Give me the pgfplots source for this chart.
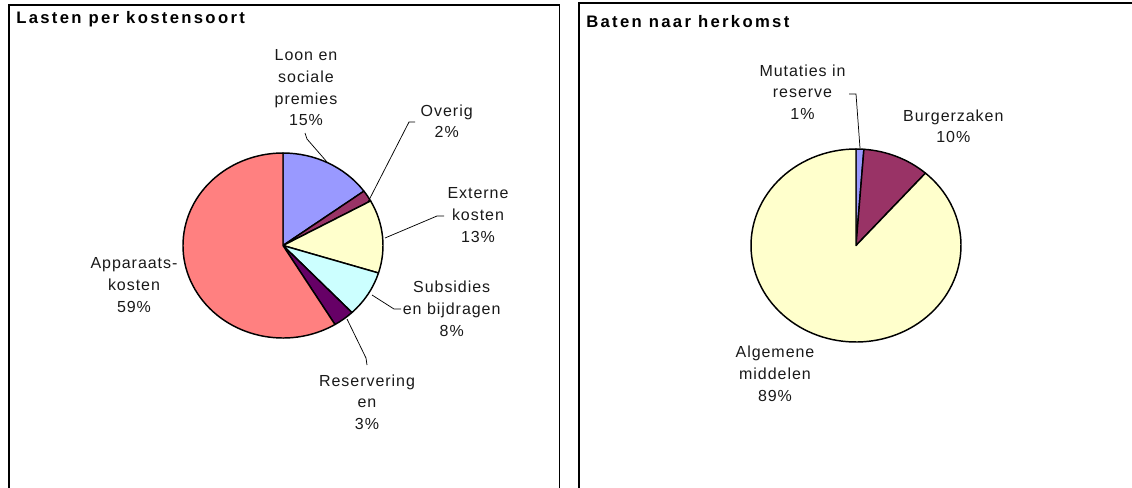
\documentclass[border=0pt]{standalone}
\usepackage{pgfplots}
\pgfplotsset{compat=1.18}
\usepackage{pgfplotstable}
\usepackage{fontspec}
\setmainfont{Liberation Sans}
\newfontfamily\lblfam{Liberation Sans}[LetterSpace=6]
\newfontfamily\ttlfam{Liberation Sans}[LetterSpace=14]
\newcommand\lbl{\lblfam\fontsize{12pt}{16.3pt}\selectfont}
\newcommand\ttl{\ttlfam\bfseries\fontsize{12.5pt}{14pt}\selectfont}

\definecolor{cLoon}{HTML}{9999FF}
\definecolor{cOverig}{HTML}{993366}
\definecolor{cExtern}{HTML}{FFFFCC}
\definecolor{cSubs}{HTML}{CCFFFF}
\definecolor{cReserv}{HTML}{660066}
\definecolor{cApp}{HTML}{FF8080}

% Lasten per kostensoort (percentages, clockwise from 12 o'clock)
\pgfplotstableread{
label pct col
Loon 15.0 cLoon
Overig 2.0 cOverig
Externe 12.8 cExtern
Subsidies 8.1 cSubs
Reservering 3.4 cReserv
Apparaats 58.7 cApp
}\lasten

% Baten naar herkomst
\pgfplotstableread{
label pct col
Mutaties 1.2 cLoon
Burgerzaken 10.3 cOverig
Algemene 88.5 cExtern
}\baten

\def\piecmds{}
% #1 table, #2 cx, #3 cy, #4 rx, #5 ry  (pixel units, y downward)
\newcommand\addpie[5]{%
  \pgfplotstablegetrowsof{#1}%
  \pgfmathtruncatemacro\nlast{\pgfplotsretval-1}%
  \def\startang{90}%
  \pgfmathsetmacro\rxpt{#4*0.75}%
  \pgfmathsetmacro\rypt{#5*0.75}%
  \pgfplotsforeachungrouped \i in {0,...,\nlast}{%
    \pgfplotstablegetelem{\i}{pct}\of{#1}\let\pct\pgfplotsretval
    \pgfplotstablegetelem{\i}{col}\of{#1}\let\col\pgfplotsretval
    \pgfmathsetmacro\endang{\startang-3.6*\pct}%
    \pgfmathsetmacro\sx{#2+#4*cos(\startang)}%
    \pgfmathsetmacro\sy{#3-#5*sin(\startang)}%
    \xdef\piecmds{\unexpanded\expandafter{\piecmds}%
      \noexpand\addplot[forget plot,mark=none,fill=\col,draw=black,line width=1.1pt,line join=round]
      coordinates {(#2,#3) (\sx,\sy)}
      arc[start angle=\startang,end angle=\endang,x radius=\rxpt pt,y radius=\rypt pt] -- cycle;}%
    \let\startang\endang
  }%
}

\tikzset{pl/.style={anchor=north, align=center, inner sep=0pt, font=\lbl, text=black!90},
         ld/.style={line width=0.55pt, black}}

\begin{document}
\addpie{\lasten}{283}{245.5}{100}{92.5}%
\addpie{\baten}{856}{245.5}{105}{96.5}%
\begin{tikzpicture}
\begin{axis}[hide axis, scale only axis, x=0.75pt, y=0.75pt,
  xmin=0, xmax=1132, ymin=0, ymax=487, y dir=reverse, clip=true]
% panel frames
\draw[line width=1pt, black] (axis cs:9,495) -- (axis cs:9,5) -- (axis cs:559.3,5) -- (axis cs:559.3,495);
\draw[line width=1pt, black] (axis cs:579,495) -- (axis cs:579,3) -- (axis cs:1140,3);
% pies
\piecmds
% titles
\node[anchor=north west, inner sep=0pt, font=\ttl] at (axis cs:16,11.5) {Lasten per kostensoort};
\node[anchor=north west, inner sep=0pt, font=\ttl] at (axis cs:586,15.1) {Baten naar herkomst};
% left labels
\node[pl] at (axis cs:306,49.3) {Loon en\\sociale\\premies\\15\%};
\node[pl] at (axis cs:446.7,104.3) {Overig\\2\%};
\node[pl] at (axis cs:478,187.3) {Externe\\kosten\\13\%};
\node[pl] at (axis cs:451.7,281) {Subsidies\\en bijdragen\\8\%};
\node[pl] at (axis cs:367,374.3) {Reservering\\en\\3\%};
\node[pl] at (axis cs:134,257.3) {Apparaats-\\kosten\\59\%};
% right labels
\node[pl] at (axis cs:802.5,64.3) {Mutaties in\\reserve\\1\%};
\node[pl] at (axis cs:953.3,109.3) {Burgerzaken\\10\%};
\node[pl] at (axis cs:775,346) {Algemene\\middelen\\89\%};
% leader lines
\draw[ld] (axis cs:305,133) -- (axis cs:307,139) -- (axis cs:327,162);
\draw[ld] (axis cs:415,122) -- (axis cs:409,122) -- (axis cs:368,202);
\draw[ld] (axis cs:444,216) -- (axis cs:437,216) -- (axis cs:385,238);
\draw[ld] (axis cs:401,309) -- (axis cs:394,309) -- (axis cs:372,295);
\draw[ld] (axis cs:347,319) -- (axis cs:366,358) -- (axis cs:367,365);
\draw[ld] (axis cs:849,94) -- (axis cs:856,94) -- (axis cs:860,148);
\end{axis}
\pgfresetboundingbox
\path[use as bounding box] (0,0) rectangle (849pt,365.25pt);
\end{tikzpicture}
\end{document}
